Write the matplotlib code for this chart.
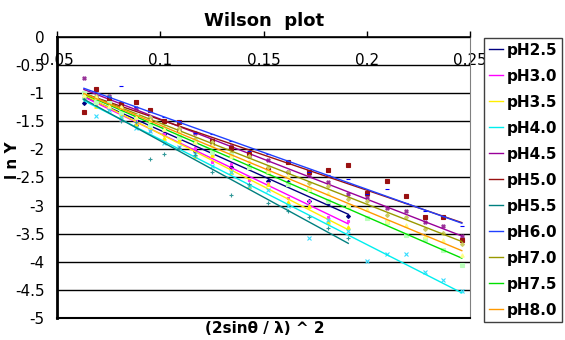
import numpy as np
import matplotlib
matplotlib.use('Agg')
import matplotlib.pyplot as plt

plt.rcParams['axes.unicode_minus'] = False
plt.rcParams['font.family'] = ['DejaVu Sans']

# resolution shells, (2sin(theta)/lambda)^2
x_short = [0.063, 0.069, 0.075, 0.081, 0.088, 0.095, 0.102, 0.109, 0.117,
           0.125, 0.134, 0.143, 0.152, 0.162, 0.172, 0.181, 0.191]
x_long = x_short + [0.200, 0.210, 0.219, 0.228, 0.237, 0.246]

labels = ['pH2.5', 'pH3.0', 'pH3.5', 'pH4.0', 'pH4.5', 'pH5.0',
          'pH5.5', 'pH6.0', 'pH7.0', 'pH7.5', 'pH8.0']

# ln Y per shell
y_ph25 = [-1.17, -1.08, -1.26, -1.26, -1.56, -1.52, -1.72, -1.68, -2.02, -2.04,
          -2.32, -2.30, -2.57, -2.58, -2.91, -2.96, -3.18]
y_ph30 = [-1.00, -1.20, -1.22, -1.45, -1.48, -1.68, -1.72, -1.95, -1.98, -2.22,
          -2.26, -2.55, -2.60, -2.86, -2.92, -3.20, -3.28]
y_ph35 = [-1.05, -1.22, -1.08, -1.40, -1.55, -1.58, -1.80, -1.84, -2.12, -2.10,
          -2.40, -2.66, -2.62, -2.94, -3.00, -3.30, -3.38]
y_ph40 = [-1.05, -1.41, -1.30, -1.42, -1.62, -1.68, -1.88, -1.95, -2.08, -2.30,
          -2.40, -2.65, -2.72, -3.00, -3.58, -3.25, -3.46, -3.98, -3.86, -3.87,
          -4.19, -4.33, -4.52]
y_ph45 = [-0.72, -1.10, -1.05, -1.22, -1.27, -1.46, -1.50, -1.66, -1.70, -1.90,
          -1.94, -2.12, -2.18, -2.40, -2.46, -2.58, -2.79, -2.85, -3.05, -3.10,
          -3.30, -3.37, -3.55]
y_ph50 = [-1.34, -0.93, -1.10, -1.20, -1.16, -1.30, -1.50, -1.52, -1.85, -1.85,
          -1.97, -2.09, -2.36, -2.22, -2.40, -2.36, -2.27, -2.78, -2.57, -2.83,
          -3.21, -3.21, -3.61]
y_ph55 = [-1.10, -1.05, -1.05, -1.50, -1.52, -2.17, -2.08, -1.98, -2.10, -2.40,
          -2.82, -2.62, -2.95, -3.10, -3.20, -3.40, -3.58]
y_ph60 = [-0.98, -1.05, -1.06, -0.88, -1.25, -1.40, -1.42, -1.50, -1.70, -1.72,
          -1.85, -2.02, -2.08, -2.20, -2.40, -2.45, -2.52, -2.80, -2.70, -2.95,
          -3.10, -3.18, -3.36]
y_ph70 = [-1.02, -1.05, -1.20, -1.24, -1.40, -1.42, -1.60, -1.62, -1.82, -1.86,
          -2.06, -2.12, -2.32, -2.40, -2.60, -2.66, -2.88, -2.92, -3.16, -3.20,
          -3.42, -3.48, -3.68]
y_ph75 = [-1.00, -1.15, -1.18, -1.34, -1.40, -1.56, -1.62, -1.78, -1.85, -2.04,
          -2.10, -2.32, -2.40, -2.62, -2.70, -2.92, -3.00, -3.22, -3.30, -3.52,
          -3.60, -3.80, -4.05]
y_ph80 = [-1.04, -1.06, -1.22, -1.25, -1.42, -1.47, -1.63, -1.68, -1.86, -1.92,
          -2.12, -2.20, -2.39, -2.48, -2.70, -2.77, -2.99, -3.06, -3.27, -3.35,
          -3.55, -3.62, -3.88]

y_all = [y_ph25, y_ph30, y_ph35, y_ph40, y_ph45, y_ph50,
         y_ph55, y_ph60, y_ph70, y_ph75, y_ph80]

line_colors = ['#000080', '#FF00FF', '#FFEE00', '#00EEEE', '#990099', '#991111',
               '#008080', '#2040FF', '#999900', '#00E000', '#FF9900']
mark_colors = ['#000080', '#FF33FF', '#FFEE00', '#33DDFF', '#993399', '#991111',
               '#339999', '#0000FF', '#CCCC66', '#BBFFBB', '#FFFF88']
markers = ['D', 's', '^', 'x', 'X', 's', '+', '_', 'D', 's', '^']
msizes = [2, 2, 2.5, 2.5, 2.5, 3.2, 2.5, 2.5, 2, 2.5, 2.5]

fig, ax = plt.subplots(figsize=(5.65, 3.4), dpi=100)
fig.subplots_adjust(left=0.101, right=0.832, top=0.891, bottom=0.065)

for lab, y, lc, mc, m, ms in zip(labels, y_all, line_colors, mark_colors, markers, msizes):
    x = np.array(x_long[:len(y)])
    y = np.array(y)
    ax.plot(x, y, ls='none', marker=m, ms=ms, color=mc, mec=mc, mew=0.8)
    # linear trendline
    k, b = np.polyfit(x, y, 1)
    xx = np.array([x[0], x[-1]])
    ax.plot(xx, k * xx + b, color=lc, lw=1, label=lab)

ax.set_xlim(0.05, 0.25)
ax.set_ylim(-5, 0)
ax.set_xticks([0.05, 0.1, 0.15, 0.2, 0.25])
ax.set_xticklabels(['0.05', '0.1', '0.15', '0.2', '0.25'])
ax.set_yticks(np.arange(-5, 0.01, 0.5))
ax.set_yticklabels(['-5', '-4.5', '-4', '-3.5', '-3', '-2.5', '-2', '-1.5', '-1', '-0.5', '0'])

ax.xaxis.tick_top()
ax.tick_params(axis='x', direction='out', length=4, width=1, pad=-26, labelsize=11)
ax.tick_params(axis='y', length=0, pad=9, labelsize=11)
ax.grid(axis='y', color='black', lw=1)
ax.set_axisbelow(True)

ax.spines['left'].set_linewidth(2)
ax.spines['top'].set_linewidth(1.2)
ax.spines['bottom'].set_linewidth(1.5)
ax.spines['right'].set_color('#808080')

ax.set_title('Wilson  plot', fontsize=13, fontweight='bold', pad=8)
fig.text(0.468, 0.035, '(2sin\u03b8 / \u03bb) ^ 2', ha='center', va='center',
         fontsize=11, fontweight='bold')
fig.text(0.022, 0.53, 'l n Y', ha='center', va='center', rotation=90,
         fontsize=11, fontweight='bold')

fig.legend(loc='upper left', bbox_to_anchor=(0.857, 0.888), frameon=True,
           fancybox=False, edgecolor='#404040', framealpha=1,
           prop={'weight': 'bold', 'size': 11}, handlelength=0.9,
           handletextpad=0.3, labelspacing=0.72, borderpad=0.3,
           borderaxespad=0)

fig.savefig('out.png', dpi=100)
